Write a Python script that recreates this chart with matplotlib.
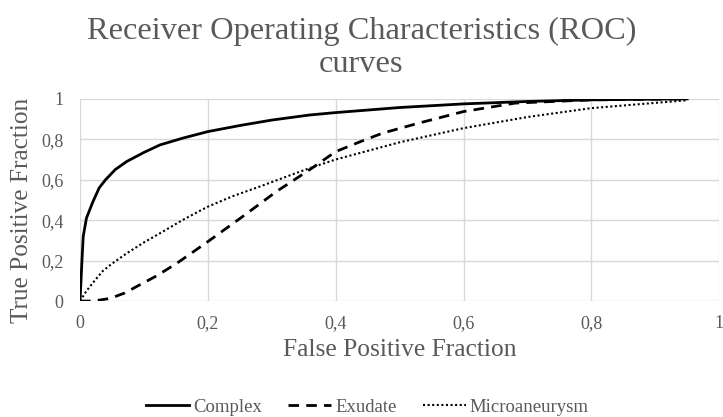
import matplotlib.pyplot as plt
from matplotlib.ticker import FuncFormatter

plt.rcParams['font.family'] = ['Liberation Serif', 'DejaVu Serif']

# ROC curve points
complex_fpr = [0, 0.003, 0.005, 0.01, 0.02, 0.03, 0.04, 0.055, 0.073, 0.1, 0.125, 0.16, 0.2,
               0.25, 0.3, 0.359, 0.4, 0.5, 0.6, 0.7, 0.8, 0.95]
complex_tpr = [0, 0.2, 0.32, 0.41, 0.49, 0.56, 0.6, 0.65, 0.69, 0.735, 0.772, 0.805, 0.838,
               0.868, 0.895, 0.92, 0.932, 0.957, 0.975, 0.987, 0.995, 1.0]

exudate_fpr = [0, 0.02, 0.047, 0.07, 0.088, 0.12, 0.151, 0.2, 0.254, 0.307, 0.359, 0.4,
               0.44, 0.473, 0.53, 0.6, 0.681, 0.8, 0.95]
exudate_tpr = [0, 0.0, 0.013, 0.04, 0.071, 0.125, 0.186, 0.294, 0.417, 0.541, 0.649, 0.739,
               0.79, 0.83, 0.88, 0.937, 0.979, 0.995, 1.0]

micro_fpr = [0, 0.01, 0.02, 0.036, 0.05, 0.073, 0.1, 0.125, 0.16, 0.2, 0.24, 0.281, 0.32,
             0.359, 0.4, 0.5, 0.6, 0.7, 0.8, 0.95]
micro_tpr = [0, 0.05, 0.09, 0.15, 0.185, 0.236, 0.29, 0.335, 0.4, 0.467, 0.52, 0.566, 0.612,
             0.657, 0.70, 0.785, 0.855, 0.91, 0.954, 0.993]

ticks = [0, 0.2, 0.4, 0.6, 0.8, 1]

grey = '#595959'
grid = '#d9d9d9'

fig = plt.figure(figsize=(7.23, 4.17), dpi=100)
ax = fig.add_axes([0.1107, 0.278, 0.884, 0.485])

ax.plot(complex_fpr, complex_tpr, color='black', lw=2.0, ls='-', label='Complex')
ax.plot(exudate_fpr, exudate_tpr, color='black', lw=2.0, ls=(0, (3.8, 2.6)), label='Exudate')
ax.plot(micro_fpr, micro_tpr, color='black', lw=1.5, ls=(0, (1, 1.2)), label='Microaneurysm')

ax.set_xlim(0, 1)
ax.set_ylim(0, 1)
ax.set_xticks(ticks)
ax.set_yticks(ticks)
fmt = FuncFormatter(lambda v, p: ('%g' % round(v, 1)).replace('.', ','))
ax.xaxis.set_major_formatter(fmt)
ax.yaxis.set_major_formatter(fmt)
ax.tick_params(length=0, labelsize=13, labelcolor=grey)
ax.tick_params(axis='x', pad=10)
ax.tick_params(axis='y', pad=12)
ax.grid(True, color=grid, lw=1)
ax.set_axisbelow(True)
for s in ax.spines.values():
    s.set_visible(False)

ax.set_xlabel('False Positive Fraction', fontsize=18.4, color=grey, labelpad=5)
ax.set_ylabel('True Positive Fraction', fontsize=18.2, color=grey)
ax.yaxis.set_label_coords(-0.073, 0.45)
fig.suptitle('Receiver Operating Characteristics (ROC)\ncurves', fontsize=23.3, color=grey,
             y=0.96, linespacing=1.2)

fig.legend(loc='center', bbox_to_anchor=(0.508, 0.024), ncol=3, frameon=False,
           fontsize=13.5, labelcolor=grey, handlelength=2.3, columnspacing=1.4,
           handletextpad=0.2)

fig.savefig('out.png', dpi=100)
